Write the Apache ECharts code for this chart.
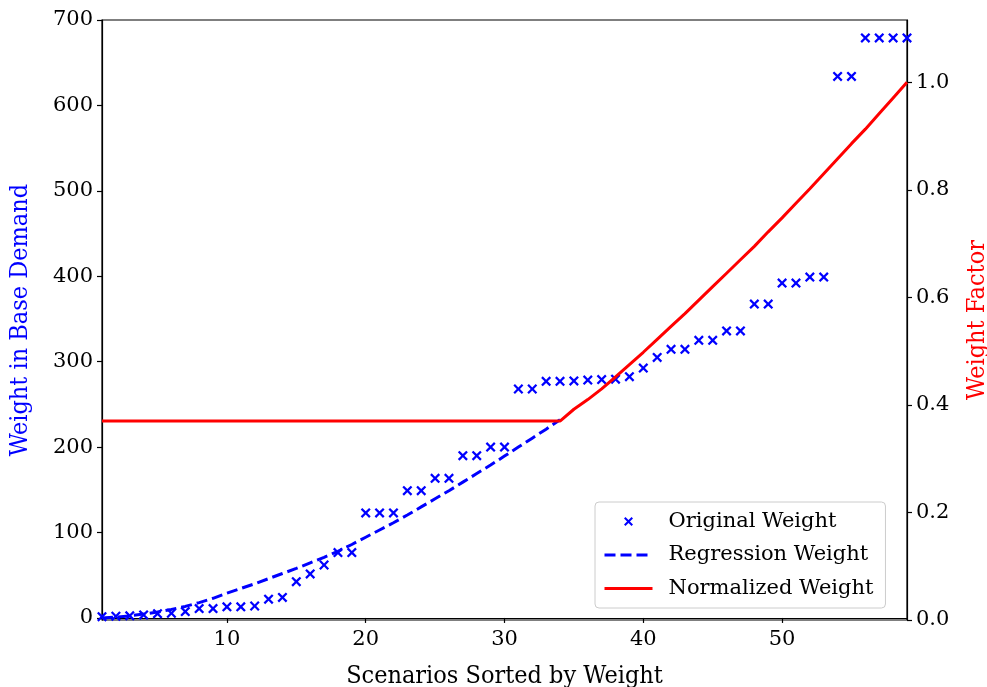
<!DOCTYPE html>
<html>
<head>
<meta charset="utf-8">
<script src="https://cdn.jsdelivr.net/npm/echarts@6/dist/echarts.min.js"></script>
<style>
html,body{margin:0;padding:0;background:#fff;}
#chart{width:987px;height:687px;}
</style>
</head>
<body>
<div id="chart"></div>
<script>
// ---- data ----
const scenarios = [1,2,3,4,5,6,7,8,9,10,11,12,13,14,15,16,17,18,19,20,21,22,23,24,25,26,27,28,29,30,
  31,32,33,34,35,36,37,38,39,40,41,42,43,44,45,46,47,48,49,50,51,52,53,54,55,56,57,58,59];
const originalWeight = [1.5,2,2.5,3.5,5,5.5,7.5,11,11,13,13,14,22,24,42.5,51.5,62,76.5,76.5,
  123,123,123,149,149,163.5,163.5,190,190,200,200,268,268,277,277,277.5,278.5,279,279.5,282.5,292.5,
  305,314.5,314.5,325,325,336,336,367.5,367.5,392,392,399,399,634,634,679,679,679,679];
const regressionWeight = [0,1,2.5,4.5,7,10,13.5,18,23,29,34.5,40,46,52,58,64.5,71,78,86,94.5,
  103,111.5,120.5,130,139.5,149,159,169,179,189.5,200,210.5,221,232];
const normalizedWeight = [0.37,0.37,0.37,0.37,0.37,0.37,0.37,0.37,0.37,0.37,0.37,0.37,0.37,0.37,0.37,
  0.37,0.37,0.37,0.37,0.37,0.37,0.37,0.37,0.37,0.37,0.37,0.37,0.37,0.37,0.37,0.37,0.37,0.37,0.37,
  0.392,0.41,0.43,0.452,0.475,0.498,0.522,0.546,0.57,0.595,0.62,0.645,0.67,0.695,0.722,0.748,0.775,
  0.802,0.83,0.858,0.886,0.913,0.942,0.971,1.0];
const xTicks = [10,20,30,40,50];
const yLeftTicks = [0,100,200,300,400,500,600,700];
const yRightTicks = [0,0.2,0.4,0.6,0.8,1.0];

const serif = '"DejaVu Serif", serif';
const serifCond = '"DejaVu Serif Condensed", "DejaVu Serif", serif';
const crossPath = 'path://M0,1.6 L1.6,0 L5,3.4 L8.4,0 L10,1.6 L6.6,5 L10,8.4 L8.4,10 L5,6.6 L1.6,10 L0,8.4 L3.4,5 Z';

const chart = echarts.init(document.getElementById('chart'), null, {renderer:'canvas'});
const axisLine = {show:true, lineStyle:{color:'#000', width:1.2}};
const axisTick = {show:true, inside:false, length:5, lineStyle:{color:'#000', width:1.2}};
chart.setOption({
  animation:false,
  backgroundColor:'#fff',
  grid:{left:102, right:80, top:20, bottom:67, show:true, borderColor:'#000', borderWidth:1.2,
        containLabel:false, outerBoundsMode:'none'},
  legend:{
    orient:'vertical', left:595, top:502, width:302,
    padding:[9,12,9,8], itemGap:12.5, itemWidth:48, itemHeight:9,
    backgroundColor:'rgba(255,255,255,0.8)', borderColor:'#cccccc', borderWidth:1, borderRadius:4,
    lineStyle:{width:3},
    textStyle:{fontFamily:serif, fontSize:21, color:'#000', padding:[0,0,0,11]},
    data:[
      {name:'Original Weight'},
      {name:'Regression Weight', itemStyle:{opacity:0}},
      {name:'Normalized Weight', itemStyle:{opacity:0}}
    ]
  },
  xAxis:{
    type:'value', min:1, max:59,
    name:'Scenarios Sorted by Weight', nameLocation:'middle', nameGap:44,
    nameTextStyle:{fontFamily:serifCond, fontSize:25, color:'#000'},
    axisLine:axisLine,
    axisTick:Object.assign({}, axisTick, {customValues:xTicks}),
    axisLabel:{customValues:xTicks, fontFamily:serif, fontSize:21, color:'#000', margin:9},
    splitLine:{show:false}
  },
  yAxis:[{
    type:'value', min:-2.4, max:700, position:'left',
    name:'Weight in Base Demand', nameLocation:'middle', nameGap:69, nameRotate:90,
    nameTextStyle:{fontFamily:serifCond, fontSize:25, color:'#0000ff'},
    axisLine:axisLine,
    axisTick:Object.assign({}, axisTick, {customValues:yLeftTicks}),
    axisLabel:{customValues:yLeftTicks, fontFamily:serif, fontSize:21, color:'#000', margin:9},
    splitLine:{show:false}
  },{
    type:'value', min:0, max:1.116, position:'right',
    name:'Weight Factor', nameLocation:'middle', nameGap:58, nameRotate:90,
    nameTextStyle:{fontFamily:serifCond, fontSize:25, color:'#ff0000'},
    axisLine:axisLine,
    axisTick:Object.assign({}, axisTick, {customValues:yRightTicks}),
    axisLabel:{customValues:yRightTicks, fontFamily:serif, fontSize:21, color:'#000', margin:9,
      formatter:v=>v.toFixed(1)},
    splitLine:{show:false}
  }],
  series:[{
    name:'Original Weight', type:'scatter', yAxisIndex:0,
    symbol:crossPath, symbolSize:10,
    itemStyle:{color:'#0000ff', opacity:1},
    data:scenarios.map((s,i)=>[s, originalWeight[i]]),
    z:2
  },{
    name:'Regression Weight', type:'line', yAxisIndex:0,
    showSymbol:false, symbol:'none',
    lineStyle:{color:'#0000ff', width:3, type:[11,5]},
    itemStyle:{color:'#0000ff'},
    data:regressionWeight.map((v,i)=>[scenarios[i], v]),
    z:3
  },{
    name:'Normalized Weight', type:'line', yAxisIndex:1,
    showSymbol:false, symbol:'none',
    lineStyle:{color:'#ff0000', width:3},
    itemStyle:{color:'#ff0000'},
    data:scenarios.map((s,i)=>[s, normalizedWeight[i]]),
    z:4
  }]
});
</script>
</body>
</html>
